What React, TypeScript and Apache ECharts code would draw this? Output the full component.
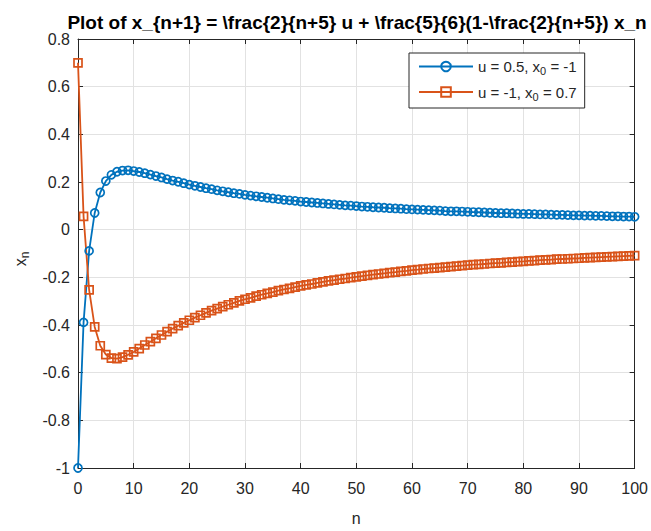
import React, { useEffect, useRef } from "react";
import * as echarts from "echarts";

const titleText =
  "Plot of x_{n+1} = \\frac{2}{n+5} u + \\frac{5}{6}(1-\\frac{2}{n+5}) x_n";

const seriesNames = ["u = 0.5, x0 = -1", "u = -1, x0 = 0.7"];

const xTicks = { min: 0, max: 100, interval: 10 };
const yTicks = { min: -1, max: 0.8, interval: 0.2 };

// x_n for u = 0.5, x0 = -1  (n = 0..100)
const seriesA = [
  -1, -0.389, -0.089, 0.07, 0.156, 0.204, 0.23, 0.243, 0.248, 0.249,
  0.246, 0.242, 0.237, 0.231, 0.225, 0.219, 0.212, 0.206, 0.201, 0.195,
  0.189, 0.184, 0.179, 0.174, 0.17, 0.165, 0.161, 0.157, 0.153, 0.15,
  0.146, 0.143, 0.14, 0.137, 0.134, 0.131, 0.128, 0.125, 0.123, 0.121,
  0.118, 0.116, 0.114, 0.112, 0.11, 0.108, 0.106, 0.104, 0.102, 0.101,
  0.099, 0.097, 0.096, 0.094, 0.093, 0.092, 0.09, 0.089, 0.088, 0.086,
  0.085, 0.084, 0.083, 0.082, 0.081, 0.08, 0.078, 0.077, 0.077, 0.076,
  0.075, 0.074, 0.073, 0.072, 0.071, 0.07, 0.069, 0.069, 0.068, 0.067,
  0.066, 0.066, 0.065, 0.064, 0.064, 0.063, 0.062, 0.062, 0.061, 0.06,
  0.06, 0.059, 0.059, 0.058, 0.058, 0.057, 0.056, 0.056, 0.055, 0.055,
  0.054,
];

// x_n for u = -1, x0 = 0.7  (n = 0..100)
const seriesB = [
  0.7, 0.056, -0.253, -0.408, -0.487, -0.524, -0.539, -0.541, -0.535, -0.525,
  -0.513, -0.499, -0.484, -0.47, -0.456, -0.442, -0.428, -0.415, -0.403, -0.391,
  -0.38, -0.369, -0.359, -0.349, -0.34, -0.331, -0.323, -0.315, -0.307, -0.299,
  -0.292, -0.286, -0.279, -0.273, -0.267, -0.262, -0.256, -0.251, -0.246, -0.241,
  -0.236, -0.232, -0.228, -0.223, -0.219, -0.215, -0.212, -0.208, -0.205, -0.201,
  -0.198, -0.195, -0.192, -0.189, -0.186, -0.183, -0.18, -0.178, -0.175, -0.173,
  -0.17, -0.168, -0.165, -0.163, -0.161, -0.159, -0.157, -0.155, -0.153, -0.151,
  -0.149, -0.147, -0.146, -0.144, -0.142, -0.14, -0.139, -0.137, -0.136, -0.134,
  -0.133, -0.131, -0.13, -0.128, -0.127, -0.126, -0.124, -0.123, -0.122, -0.121,
  -0.12, -0.118, -0.117, -0.116, -0.115, -0.114, -0.113, -0.112, -0.111, -0.11,
  -0.109,
];

const BLUE = "#0072BD";
const ORANGE = "#D95319";
const AXIS = "#262626";
const GRIDC = "#e2e2e2";
const FONT = "Liberation Sans, Arial, Helvetica, sans-serif";

export default function App() {
  const ref = useRef<HTMLDivElement>(null);

  useEffect(() => {
    if (!ref.current) return;
    const chart = echarts.init(ref.current, undefined, { renderer: "svg" });

    const toPairs = (arr: number[]) => arr.map((v, i) => [i, v]);

    const mirrorAxisCommon = {
      axisLine: { show: true, onZero: false, lineStyle: { color: AXIS, width: 1 } },
      axisTick: { show: true, inside: true, length: 5, lineStyle: { color: AXIS } },
      axisLabel: { show: false },
      splitLine: { show: false },
    };

    const option: any = {
      animation: false,
      backgroundColor: "#ffffff",
      textStyle: { fontFamily: FONT },
      title: {
        text: titleText,
        left: 352,
        top: 8,
        textAlign: "center",
        textStyle: {
          fontFamily: FONT,
          fontWeight: "bold",
          fontSize: 19,
          color: "#000000",
        },
      },
      grid: { left: 78, top: 39, width: 559, height: 441, containLabel: false },
      legend: {
        data: seriesNames,
        orient: "vertical",
        left: 409,
        top: 53,
        padding: [6, 8, 6, 9],
        itemGap: 8,
        itemWidth: 54,
        itemHeight: 12,
        backgroundColor: "#ffffff",
        borderColor: AXIS,
        borderWidth: 1,
        borderRadius: 0,
        formatter: (name: string) =>
          name === seriesNames[0]
            ? "{t|u = 0.5, x}{s|0}{t| = -1}"
            : "{t|u = -1, x}{s|0}{t| = 0.7}",
        textStyle: {
          color: AXIS,
          fontFamily: FONT,
          rich: {
            t: { fontSize: 15, fontFamily: FONT, color: AXIS },
            s: {
              fontSize: 11,
              fontFamily: FONT,
              color: AXIS,
              padding: [9, 0, 0, 0],
            },
          },
        },
      },
      xAxis: [
        {
          type: "value",
          position: "bottom",
          min: xTicks.min,
          max: xTicks.max,
          interval: xTicks.interval,
          name: "n",
          nameLocation: "middle",
          nameGap: 42,
          nameTextStyle: { fontSize: 16, color: AXIS, fontFamily: FONT },
          axisLine: { show: true, onZero: false, lineStyle: { color: AXIS, width: 1 } },
          axisTick: { show: true, inside: true, length: 5, lineStyle: { color: AXIS } },
          axisLabel: { fontSize: 16, color: AXIS, margin: 12, fontFamily: FONT },
          splitLine: { show: true, lineStyle: { color: GRIDC, width: 1 } },
        },
        {
          type: "value",
          position: "top",
          min: xTicks.min,
          max: xTicks.max,
          interval: xTicks.interval,
          ...mirrorAxisCommon,
        },
      ],
      yAxis: [
        {
          type: "value",
          position: "left",
          min: yTicks.min,
          max: yTicks.max,
          interval: yTicks.interval,
          axisLine: { show: true, onZero: false, lineStyle: { color: AXIS, width: 1 } },
          axisTick: { show: true, inside: true, length: 5, lineStyle: { color: AXIS } },
          axisLabel: {
            fontSize: 16,
            color: AXIS,
            margin: 8,
            fontFamily: FONT,
            formatter: (v: number) => String(Math.round(v * 10) / 10),
          },
          splitLine: { show: true, lineStyle: { color: GRIDC, width: 1 } },
        },
        {
          type: "value",
          position: "right",
          min: yTicks.min,
          max: yTicks.max,
          interval: yTicks.interval,
          ...mirrorAxisCommon,
        },
      ],
      graphic: [
        {
          type: "text",
          x: 20,
          y: 259,
          rotation: Math.PI / 2,
          style: {
            text: "{t|x}{s|n}",
            align: "center",
            verticalAlign: "middle",
            rich: {
              t: { fontSize: 16, fontFamily: FONT, fill: AXIS },
              s: { fontSize: 12, fontFamily: FONT, fill: AXIS, padding: [10, 0, 0, 0] },
            },
          },
        },
      ],
      series: [
        {
          name: seriesNames[0],
          type: "line",
          xAxisIndex: 0,
          yAxisIndex: 0,
          data: toPairs(seriesA),
          symbol: "circle",
          symbolSize: 8,
          showSymbol: true,
          showAllSymbol: true,
          lineStyle: { color: BLUE, width: 1.8 },
          itemStyle: { color: "rgba(255,255,255,0)", borderColor: BLUE, borderWidth: 1.7 },
          emphasis: { disabled: true },
        },
        {
          name: seriesNames[1],
          type: "line",
          xAxisIndex: 0,
          yAxisIndex: 0,
          data: toPairs(seriesB),
          symbol: "rect",
          symbolSize: 8,
          showSymbol: true,
          showAllSymbol: true,
          lineStyle: { color: ORANGE, width: 1.8 },
          itemStyle: { color: "rgba(255,255,255,0)", borderColor: ORANGE, borderWidth: 1.7 },
          emphasis: { disabled: true },
        },
      ],
    };

    chart.setOption(option);
    return () => chart.dispose();
  }, []);

  return (
    <div
      ref={ref}
      style={{ position: "fixed", left: 0, top: 0, width: 651, height: 531 }}
    />
  );
}
